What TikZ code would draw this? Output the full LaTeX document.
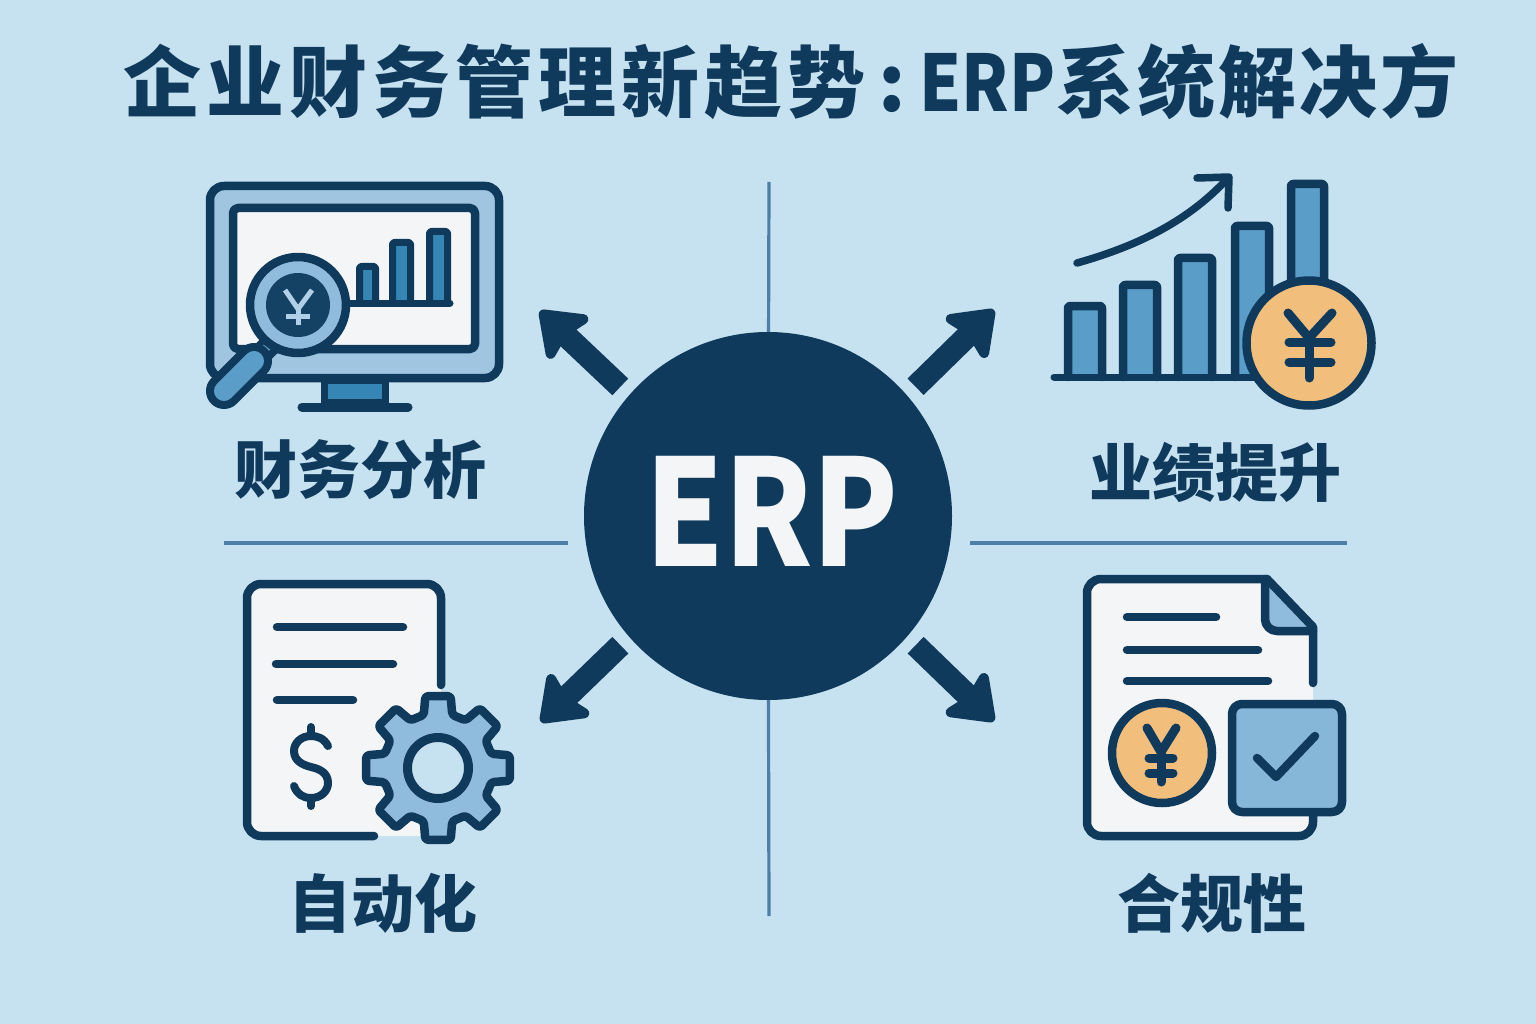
\documentclass[tikz,border=0pt]{standalone}
\usepackage{fontspec}
\setmainfont{Noto Sans CJK SC}
\usetikzlibrary{arrows.meta}
\definecolor{bgblue}{HTML}{C6E1EF}
\definecolor{navy}{HTML}{0F3A5C}
\definecolor{midblue}{HTML}{5A9DC8}
\definecolor{deepblue}{HTML}{3586B5}
\definecolor{paleblue}{HTML}{8FBBDC}
\definecolor{sheet}{HTML}{F3F5F7}
\definecolor{gold}{HTML}{F2BE7C}
\definecolor{rule}{HTML}{4D7FA8}
\tikzset{
    ink/.style={draw=navy, line width=8.5pt, line join=round, line cap=round},
    bar/.style={ink, fill=midblue, rounded corners=2pt},
    coin/.style={ink, fill=gold},
    divider/.style={draw=rule, line width=3.2pt},
    spoke/.style={draw=navy, line width=23pt, shorten <=12pt,
        -{Stealth[length=48pt, width=70pt, inset=8pt, round]}},
    caption/.style={text=navy, font=\fontsize{63}{63}\selectfont\bfseries, inner sep=0pt}
}
\begin{document}
\begin{tikzpicture}[x=1pt, y=-1pt]
    \useasboundingbox (0,0) rectangle (1536,1024);
    \fill[bgblue] (0,0) rectangle (1536,1024);

    \node[text=navy, font=\fontsize{78}{78}\selectfont\bfseries, inner sep=0pt, anchor=west] (title) at (123,82)
        {{\addfontfeature{LetterSpace=6.4}企业财务管理新趋势}\hspace{13pt}:\hspace{14pt}\scalebox{.86}[1]{ERP}\hspace{1pt}{\addfontfeature{LetterSpace=3.8}系统解决方}};

    \coordinate (vtop) at (769,182);
    \coordinate (vbot) at (769,916);
    \coordinate (hla) at (224,543);
    \coordinate (hlb) at (568,543);
    \coordinate (hra) at (970,543);
    \coordinate (hrb) at (1347,543);
    \draw[divider] (hla) -- (hlb);
    \draw[divider] (hra) -- (hrb);

    \node[circle, fill=navy, minimum size=368pt, inner sep=0pt] (erp) at (768,516) {};
    \node[text=sheet, font=\fontsize{148}{148}\selectfont\bfseries, inner sep=0pt] (erplabel) at (772,511) {\scalebox{.845}[1]{ERP}};
    \draw[divider] (erp) -- (vtop);
    \draw[divider] (erp) -- (vbot);

    \coordinate (tipa) at (540,311);
    \coordinate (tipb) at (994,310);
    \coordinate (tipc) at (541,722);
    \coordinate (tipd) at (994,721);
    \foreach \i/\j in {139/tipa, 41/tipb, 221/tipc, 319/tipd} {
        \draw[spoke] (erp.\i) -- (\j);
    }

    % monitor
    \draw[ink, fill=deepblue, line width=7pt, line cap=butt] (324.5,380) rectangle (385.5,402);
    \draw[ink, line width=9pt] (302,407) -- (408,407);
    \draw[ink, fill=paleblue!85!white, rounded corners=14pt] (210,186) rectangle (499,378);
    \draw[ink, fill=sheet, rounded corners=5pt] (233,208) rectangle (475,349);
    \foreach \xa/\xb/\ytop in {359.5/375.5/266.5, 392.5/410.5/242.5, 429.5/447.5/231.5} {
        \draw[ink, fill=deepblue, line width=7pt, rounded corners=2pt] (\xa,303) -- (\xa,\ytop) -- (\xb,\ytop) -- (\xb,303);
    }
    \draw[ink, line width=7pt] (340,303) -- (450,303);
    \draw[navy, line width=22pt] (254,361) -- (272,343);
    \draw[deepblue!80!white, line width=8pt] (261,353) -- (268,346);
    \draw[navy, line width=36pt, line cap=round] (224,391) -- (254,361);
    \draw[midblue, line width=20pt, line cap=round] (224,391) -- (254,361);
    \draw[ink, fill=paleblue] (298,305) circle[radius=48pt];
    \fill[navy!90!deepblue] (298,305) circle[radius=32pt];
    \draw[paleblue!70!white, line width=5pt] (285,290) -- (298,309) -- (312,290);
    \draw[paleblue!70!white, line width=5pt] (298,309) -- (298,325);
    \draw[paleblue!70!white, line width=5pt] (286,316) -- (310,316);

    % growth chart
    \foreach \xa/\xb/\ytop in {1068/1102/306, 1123/1157/285, 1178/1212/258, 1235/1269/226, 1291/1324/184} {
        \draw[bar] (\xa,377) -- (\xa,\ytop) -- (\xb,\ytop) -- (\xb,377);
    }
    \draw[ink, line width=7pt] (1054,377) -- (1260,377);
    \draw[ink, line width=7.5pt] (1077,263) .. controls (1130,248) and (1185,225) .. (1228,178);
    \draw[ink, line width=7.5pt] (1197,178) -- (1229,177) -- (1228,208);
    \draw[coin] (1309,343) circle[radius=62.5pt];
    \draw[ink, line width=9pt] (1288,313) -- (1309,338) -- (1332,313);
    \draw[ink, line width=9pt] (1309,338) -- (1309,378);
    \draw[ink, line width=9pt] (1289,342) -- (1331,342);
    \draw[ink, line width=9pt] (1289,362) -- (1331,362);

    % sheet and gear
    \fill[sheet, rounded corners=14pt] (247,584) rectangle (441,836);
    \draw[ink, rounded corners=14pt] (441,685) -- (441,584) -- (247,584) -- (247,836) -- (374,836);
    \foreach \xa/\xb/\yl in {277/403/627, 276/393/664, 277/353/700} {
        \draw[ink] (\xa,\yl) -- (\xb,\yl);
    }
    \draw[ink, line width=8pt] (328,746) .. controls (324,738) and (317,736) .. (311,736)
        .. controls (301,736) and (294,743) .. (294,751)
        .. controls (294,761) and (303,765) .. (311,767)
        .. controls (320,769) and (328,773) .. (328,783)
        .. controls (328,791) and (321,798) .. (311,798)
        .. controls (303,798) and (297,794) .. (294,786);
    \draw[ink, line width=8pt] (311,727) -- (311,736);
    \draw[ink, line width=8pt] (311,798) -- (311,806);
    \begin{scope}[shift={(438,768)}]
        \draw[ink, fill=paleblue, rounded corners=3pt] (22.5:55)
            \foreach \a in {45,90,...,360} {
                -- ({\a-15}:55) -- ({\a-10}:73) -- ({\a+10}:73) -- ({\a+15}:55)
            } -- cycle;
        \draw[ink, line width=9pt, fill=bgblue] (0,0) circle[radius=30.5pt];
    \end{scope}

    % compliance sheet
    \fill[sheet, rounded corners=10pt] (1087,579) -- (1267,579) -- (1313,627) -- (1313,836) -- (1087,836) -- cycle;
    \fill[paleblue] (1267,585) -- (1309,629) -- (1277,631) -- (1267,625) -- cycle;
    \draw[ink, rounded corners=14pt] (1313,805) -- (1313,836) -- (1087,836) -- (1087,579) -- (1267,579);
    \draw[ink] (1267,579) -- (1313,627) -- (1313,683);
    \draw[ink, rounded corners=12pt] (1265,579) -- (1265,631) -- (1313,631);
    \foreach \xa/\xb/\yl in {1127/1216/617, 1127/1258/650, 1127/1268/681} {
        \draw[ink] (\xa,\yl) -- (\xb,\yl);
    }
    \draw[coin] (1162,753) circle[radius=50pt];
    \draw[ink, line width=9pt] (1147,728) -- (1161,752) -- (1176,728);
    \draw[ink, line width=9pt] (1161,752) -- (1161,782);
    \draw[ink, line width=9pt] (1149,758) -- (1173,758);
    \draw[ink, line width=9pt] (1149,773) -- (1173,773);
    \draw[ink, fill=paleblue!90!deepblue, rounded corners=10pt] (1232,704) rectangle (1342,812);
    \draw[ink] (1257,758) -- (1276,777) -- (1315,736);

    \node[caption] (finance) at (360,470) {财务分析};
    \node[caption] (growth) at (1215,472) {业绩提升};
    \node[caption] (auto) at (383,903) {自动化};
    \node[caption] (comply) at (1212,903) {合规性};
\end{tikzpicture}
\end{document}
